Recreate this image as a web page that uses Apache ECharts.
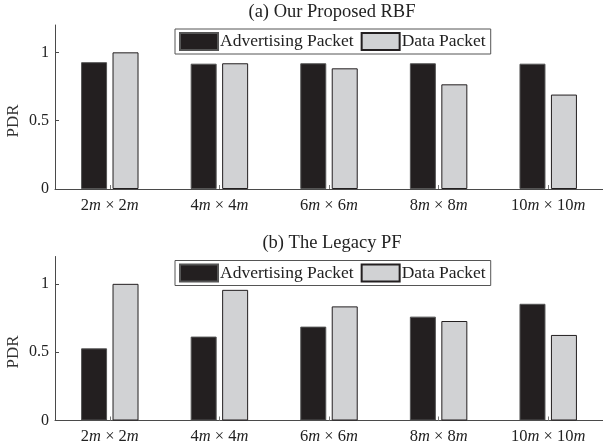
<!DOCTYPE html>
<html>
<head>
<meta charset="utf-8">
<script src="https://cdn.jsdelivr.net/npm/echarts@6/dist/echarts.min.js"></script>
<style>
  html, body { margin: 0; padding: 0; background: #fff; }
  #chart { width: 603px; height: 446px; }
</style>
</head>
<body>
<div id="chart"></div>
<script>
// Room sizes on the x axis
const categories = ['2m × 2m', '4m × 4m', '6m × 6m', '8m × 8m', '10m × 10m'];
const seriesNames = ['Advertising Packet', 'Data Packet'];
const panelTitles = ['(a) Our Proposed RBF', '(b) The Legacy PF'];
const yTicks = [0, 0.5, 1];

// Packet delivery ratio, proposed RBF
const rbfAdvertising = [0.928, 0.917, 0.920, 0.920, 0.917];
const rbfData = [1.0, 0.920, 0.883, 0.766, 0.691];

// Packet delivery ratio, legacy PF
const pfAdvertising = [0.528, 0.614, 0.687, 0.760, 0.854];
const pfData = [1.0, 0.956, 0.835, 0.728, 0.626];

const SERIF = '"Liberation Serif", "DejaVu Serif", serif';
const DARK = '#231f20';
const LIGHT = '#d1d2d4';
const AXIS = '#4a4a4a';

const grids = [
  { left: 55, top: 25, width: 554, height: 164 },
  { left: 55, top: 256.5, width: 554, height: 164 }
];

function xAxisFor(i) {
  return {
    type: 'category', gridIndex: i, data: categories,
    axisLine: { lineStyle: { color: AXIS, width: 1 } },
    axisTick: { show: true, alignWithLabel: true, interval: 0, inside: true, length: 4, lineStyle: { color: '#777' } },
    axisLabel: {
      interval: 0, margin: 8, color: '#222', fontFamily: SERIF, fontSize: 16.5,
      formatter: v => v.replace(/m/g, '{i|m}'),
      rich: { i: { fontStyle: 'italic', fontFamily: SERIF, fontSize: 16.5, color: '#222' } }
    }
  };
}

function yAxisFor(i) {
  return {
    type: 'value', gridIndex: i, min: 0, max: 1.2, interval: 0.5,
    splitLine: { show: false },
    axisLine: { show: true, lineStyle: { color: AXIS, width: 1 } },
    axisTick: { show: true, inside: true, length: 4, customValues: yTicks, lineStyle: { color: AXIS } },
    axisLabel: { customValues: yTicks, margin: 6, color: '#222', fontFamily: SERIF, fontSize: 16 }
  };
}

function legendFor(top) {
  return {
    left: 175, top: top, orient: 'horizontal',
    data: seriesNames.map(n => ({ name: n, icon: 'rect' })),
    itemWidth: 38, itemHeight: 17, itemGap: 7,
    padding: [3, 5, 3, 4],
    borderColor: '#555', borderWidth: 1,
    textStyle: { fontFamily: SERIF, fontSize: 17.5, color: '#222', padding: [0, 0, 0, -3] },
    selectedMode: false
  };
}

function barSeries(name, data, idx, color, border) {
  return {
    type: 'bar', name: name, data: data,
    xAxisIndex: idx, yAxisIndex: idx,
    barWidth: 26, barGap: '21%',
    itemStyle: { color: color, borderColor: border, borderWidth: 1 },
    emphasis: { disabled: true }
  };
}

const chart = echarts.init(document.getElementById('chart'), null, { renderer: 'canvas' });
chart.setOption({
  animation: false,
  backgroundColor: '#fff',
  grid: grids,
  xAxis: [xAxisFor(0), xAxisFor(1)],
  yAxis: [yAxisFor(0), yAxisFor(1)],
  legend: [legendFor(29), legendFor(260.5)],
  series: [
    barSeries(seriesNames[0], rbfAdvertising, 0, DARK, '#555'),
    barSeries(seriesNames[1], rbfData, 0, LIGHT, DARK),
    barSeries(seriesNames[0], pfAdvertising, 1, DARK, '#555'),
    barSeries(seriesNames[1], pfData, 1, LIGHT, DARK)
  ],
  graphic: [
    { type: 'text', x: 332, y: 12, style: { text: panelTitles[0], font: '18.5px ' + SERIF, fill: '#222', textAlign: 'center', textVerticalAlign: 'middle' } },
    { type: 'text', x: 332, y: 243.5, style: { text: panelTitles[1], font: '18.5px ' + SERIF, fill: '#222', textAlign: 'center', textVerticalAlign: 'middle' } },
    { type: 'text', x: 14, y: 121, rotation: Math.PI / 2, style: { text: 'PDR', font: '17px ' + SERIF, fill: '#333', textAlign: 'center', textVerticalAlign: 'middle' } },
    { type: 'text', x: 14, y: 352, rotation: Math.PI / 2, style: { text: 'PDR', font: '17px ' + SERIF, fill: '#333', textAlign: 'center', textVerticalAlign: 'middle' } }
  ]
});
</script>
</body>
</html>
